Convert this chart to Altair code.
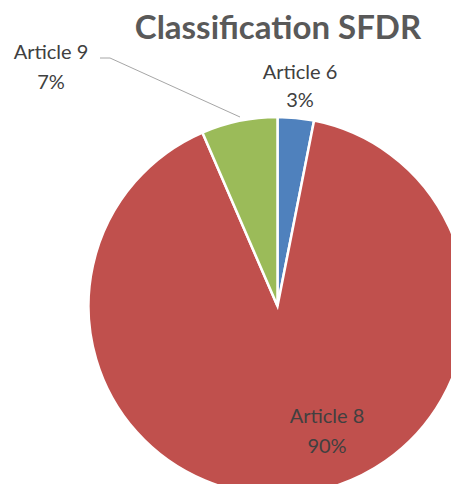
import altair as alt
import pandas as pd

categories = ["Article 6", "Article 8", "Article 9"]
values = [3.1, 90.4, 6.5]
pct_labels = ["3%", "90%", "7%"]
colors = ["#4F81BD", "#C0504D", "#9BBB59"]
title_text = "Classification SFDR"

df = pd.DataFrame({"cat": categories, "value": values, "order": [0, 1, 2]})

CX, CY, R = 269.5, 298, 189
FONT = "Lato"

pie = alt.Chart(df).mark_arc(radius=R, stroke="white", strokeWidth=2.5).encode(
    theta=alt.Theta("value:Q", stack=True),
    color=alt.Color("cat:N", scale=alt.Scale(domain=categories, range=colors), legend=None),
    order=alt.Order("order:Q"),
    x=alt.value(CX),
    y=alt.value(CY),
)

base = alt.Chart(pd.DataFrame({"a": [0]}))


def txt(s, x, y, size=20, weight="normal", color="#404040", baseline="middle"):
    return base.mark_text(font=FONT, fontSize=size, fontWeight=weight, color=color,
                          align="center", baseline=baseline).encode(
        x=alt.value(x), y=alt.value(y), text=alt.value(s))


leader1 = base.mark_rule(color="#A6A6A6", strokeWidth=1).encode(
    x=alt.value(92), x2=alt.value(102), y=alt.value(50), y2=alt.value(50))
leader2 = base.mark_rule(color="#A6A6A6", strokeWidth=1).encode(
    x=alt.value(102), x2=alt.value(232), y=alt.value(50), y2=alt.value(109))

layers = [pie, leader1, leader2,
          txt(title_text, 270, 30.5, size=33, weight="bold", color="#595959", baseline="alphabetic"),
          txt(categories[2], 43, 45), txt(pct_labels[2], 43, 75),
          txt(categories[0], 292, 65), txt(pct_labels[0], 292, 93),
          txt(categories[1], 319, 409), txt(pct_labels[1], 319, 439)]

chart = alt.layer(*layers).properties(
    width=443, height=476, padding=0, autosize=alt.AutoSizeParams(type="none")
).configure_view(stroke=None)

chart.save("out.html", embed_options={"renderer": "svg", "actions": False})
